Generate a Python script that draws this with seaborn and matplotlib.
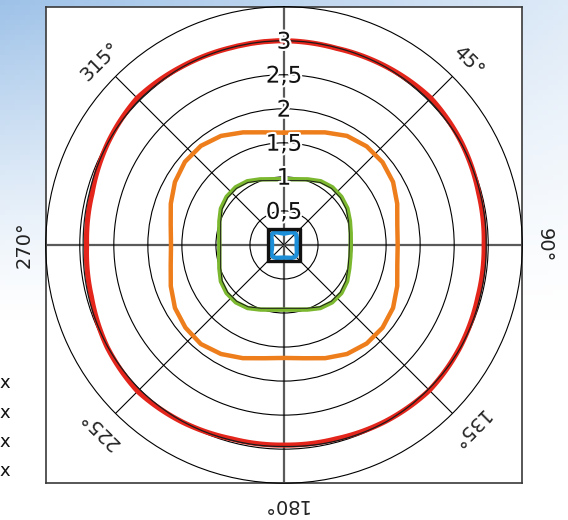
import numpy as np
import matplotlib
matplotlib.use("Agg")
import matplotlib.pyplot as plt
import matplotlib.patheffects as pe
import seaborn as sns

# ---------------- data ----------------
# near-circular curves, read every 15 degrees (clockwise from top)
angles_15 = [0, 15, 30, 45, 60, 75, 90, 105, 120, 135, 150, 165,
             180, 195, 210, 225, 240, 255, 270, 285, 300, 315, 330, 345]
red_r = [3.00, 2.99, 3.02, 3.05, 3.01, 2.96, 2.94, 2.95, 2.99, 3.02, 2.99, 2.95,
         2.94, 2.95, 3.00, 3.04, 3.00, 2.93, 2.90, 2.92, 2.99, 3.05, 3.02, 3.00]
red_ref_r = [3.00, 3.00, 3.01, 3.01, 3.00, 2.98, 2.97, 2.98, 3.00, 3.00, 3.00, 2.98,
             2.96, 2.97, 2.99, 3.00, 2.99, 2.97, 2.95, 2.96, 2.99, 3.01, 3.01, 3.00]

# squarish curves, read every 10 degrees
angles_10 = [0, 10, 20, 30, 40, 50, 60, 70, 80, 90, 100, 110,
             120, 130, 140, 150, 160, 170, 180, 190, 200, 210, 220, 230,
             240, 250, 260, 270, 280, 290, 300, 310, 320, 330, 340, 350]
orange_r = [1.65, 1.68, 1.76, 1.85, 1.89, 1.89, 1.85, 1.77, 1.69,
            1.67, 1.69, 1.77, 1.85, 1.89, 1.89, 1.85, 1.77, 1.69,
            1.66, 1.69, 1.77, 1.85, 1.90, 1.89, 1.85, 1.77, 1.69,
            1.66, 1.69, 1.77, 1.85, 1.90, 1.90, 1.85, 1.76, 1.68]
green_r = [0.965, 0.98, 1.025, 1.08, 1.105, 1.10, 1.075, 1.03, 0.995,
           0.98, 0.99, 1.02, 1.07, 1.10, 1.10, 1.07, 1.01, 0.965,
           0.95, 0.965, 1.01, 1.07, 1.10, 1.10, 1.07, 1.01, 0.965,
           0.95, 0.965, 1.01, 1.07, 1.10, 1.105, 1.08, 1.025, 0.98]
green_ref_r = [0.945, 0.96, 1.005, 1.06, 1.085, 1.08, 1.055, 1.01, 0.975,
               0.96, 0.97, 1.00, 1.05, 1.08, 1.08, 1.05, 0.99, 0.945,
               0.93, 0.945, 0.99, 1.05, 1.08, 1.08, 1.05, 0.99, 0.945,
               0.93, 0.945, 0.99, 1.05, 1.08, 1.085, 1.06, 1.005, 0.96]
blue_r = [0.17, 0.175, 0.19, 0.215, 0.235, 0.235, 0.215, 0.20, 0.19,
          0.185, 0.19, 0.20, 0.22, 0.235, 0.235, 0.22, 0.20, 0.19,
          0.185, 0.19, 0.20, 0.22, 0.235, 0.235, 0.215, 0.19, 0.18,
          0.175, 0.18, 0.19, 0.215, 0.235, 0.235, 0.215, 0.19, 0.175]

symbol_deg = [45, 135, 225, 315, 405]
symbol_r = [0.34, 0.34, 0.34, 0.34, 0.34]

radial_ticks = [0.5, 1.0, 1.5, 2.0, 2.5, 3.0]
radial_labels = ["0,5", "1", "1,5", "2", "2,5", "3"]
r_max = 3.5

angle_ticks = [45, 90, 135, 180, 225, 270, 315]
angle_labels = ["45°", "90°", "135°", "180°", "225°", "270°", "315°"]

legend_labels = ["x", "x", "x", "x"]

# ---------------- style ----------------
sns.set_theme(style="white")
plt.rcParams['font.family'] = ['DejaVu Sans']

W, H = 568, 520
fig = plt.figure(figsize=(W / 100, H / 100), dpi=100)

# background (sky-like gradient)
bg = fig.add_axes([0, 0, 1, 1], zorder=0)
yy, xx = np.mgrid[0:1:104j, 0:1:114j]
fac = np.clip(1 - yy / 0.62, 0, 1) ** 1.3 * (0.35 + 0.65 * (1 - xx))
sky = np.array([0.62, 0.76, 0.91])
img = 1 - fac[..., None] * (1 - sky[None, None, :])
bg.imshow(img, extent=[0, 1, 0, 1], origin='upper', aspect='auto')
bg.set_axis_off()

# square frame
left, right, top, bottom = 45.7, 522.3, 6.7, 483.2
pos = [left / W, (H - bottom) / H, (right - left) / W, (bottom - top) / H]
box = fig.add_axes(pos, zorder=1)
box.set_facecolor('white')
box.set_xticks([])
box.set_yticks([])
for s in box.spines.values():
    s.set_color('#3a3a3a')
    s.set_linewidth(1.2)

# polar axes
ax = fig.add_axes(pos, projection='polar', zorder=2)
ax.set_facecolor('none')
ax.set_theta_zero_location('N')
ax.set_theta_direction(-1)
ax.set_rlim(0, r_max)
ax.set_rticks(radial_ticks)
ax.set_yticklabels([])
ax.set_xticks(np.deg2rad(np.arange(0, 360, 45)))
ax.set_xticklabels([])
ax.tick_params(length=0)
ax.grid(True, color='black', linewidth=0.8)
for i, gl in enumerate(ax.xaxis.get_gridlines()):
    if i % 2 == 0:
        gl.set_color('#5a5a5a')
        gl.set_linewidth(1.6)
ax.spines['polar'].set_color('black')
ax.spines['polar'].set_linewidth(0.8)


def closed(deg, r):
    t = np.deg2rad(list(deg) + [deg[0] + 360])
    return t, list(r) + [r[0]]


# (angles, radii, colour, width, follow polar arcs between samples)
curves = [
    (angles_15, red_r, '#e3251b', 3.7, True),
    (angles_15, red_ref_r, '#1a1a1a', 0.9, True),
    (angles_10, orange_r, '#ee7d1b', 3.2, False),
    (angles_10, green_r, '#7cb82f', 3.2, False),
    (angles_10, green_ref_r, '#1a1a1a', 0.7, False),
    (angles_10, blue_r, '#1d8fd8', 3.2, False),
]
for ang, r, c, lw, arc in curves:
    t, rr = closed(ang, r)
    sns.lineplot(x=t, y=rr, sort=False, estimator=None, color=c,
                 linewidth=lw, ax=ax)
    line = ax.lines[-1]
    line.set_solid_joinstyle('round')
    if arc:
        line.get_path()._interpolation_steps = 40

sns.lineplot(x=np.deg2rad(symbol_deg), y=symbol_r, sort=False, estimator=None,
             color='#111111', linewidth=2.4, ax=ax)
ax.lines[-1].set_solid_joinstyle('miter')
ax.set_xlabel('')
ax.set_ylabel('')

stroke = [pe.withStroke(linewidth=3, foreground='white')]
for rv, lab in zip(radial_ticks, radial_labels):
    ax.text(0, rv - 0.02, lab, ha='center', va='center', fontsize=16.5,
            color='#111111', path_effects=stroke, zorder=10)

for deg, lab in zip(angle_ticks, angle_labels):
    ax.text(np.deg2rad(deg), 3.82, lab, rotation=-deg, rotation_mode='anchor',
            ha='center', va='center', fontsize=14, color='#222222',
            clip_on=False, zorder=10)

for i, lab in enumerate(legend_labels):
    fig.text(5 / W, 1 - (383 + 29.5 * i) / H, lab, ha='center', va='center',
             fontsize=13, color='#111111')

fig.savefig('out.png', dpi=100)
